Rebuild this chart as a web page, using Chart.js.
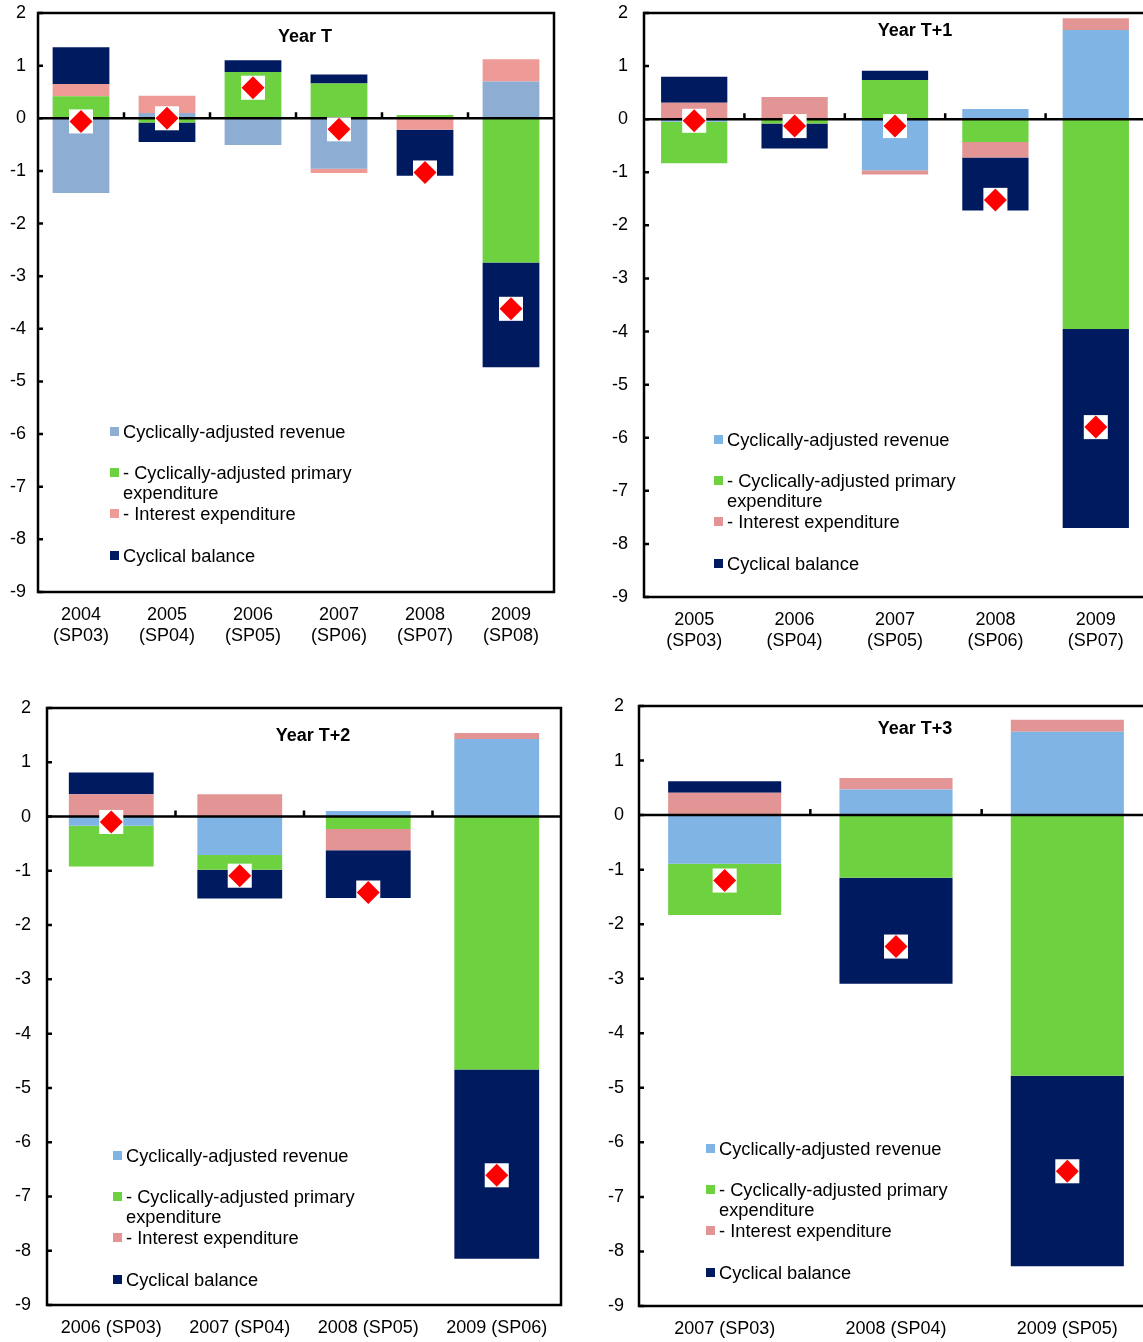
<!DOCTYPE html>
<html>
<head>
<meta charset="utf-8">
<script src="https://cdn.jsdelivr.net/npm/chart.js@4.4.0/dist/chart.umd.min.js"></script>
<style>
  html, body { margin: 0; padding: 0; background: #fff; overflow: hidden; width: 1143px; height: 1342px; }
  body { position: relative; font-family: "Liberation Sans", Arial, sans-serif; color: #000; }
  .panel { position: absolute; }
  .title { position: absolute; font-weight: bold; font-size: 18px; line-height: 20px; white-space: nowrap; transform: translateX(-50%); }
  .lg { position: absolute; font-size: 18.3px; line-height: 20px; white-space: nowrap; }
  .sw { position: absolute; width: 9px; height: 9px; }
</style>
</head>
<body>
<script>
// ---- data: Year T ----
const catsT = [['2004', '(SP03)'], ['2005', '(SP04)'], ['2006', '(SP05)'], ['2007', '(SP06)'], ['2008', '(SP07)'], ['2009', '(SP08)']];
const revT  = [-1.42, 0.10, -0.51, -0.96, 0.00, 0.70];
const primT = [0.42, -0.08, 0.88, 0.66, 0.06, -2.74];
const intT  = [0.23, 0.33, 0.00, -0.08, -0.22, 0.42];
const cycT  = [0.70, -0.37, 0.22, 0.17, -0.87, -1.99];
const balT  = [-0.06, 0.00, 0.58, -0.21, -1.03, -3.62];

// ---- data: Year T+1 ----
const catsT1 = [['2005', '(SP03)'], ['2006', '(SP04)'], ['2007', '(SP05)'], ['2008', '(SP06)'], ['2009', '(SP07)']];
const revT1  = [-0.05, 0.00, -0.96, 0.19, 1.68];
const primT1 = [-0.78, -0.08, 0.74, -0.43, -3.95];
const intT1  = [0.31, 0.42, -0.08, -0.29, 0.22];
const cycT1  = [0.49, -0.47, 0.17, -1.00, -3.75];
const balT1  = [-0.03, -0.13, -0.13, -1.52, -5.80];

// ---- data: Year T+2 ----
const catsT2 = ['2006 (SP03)', '2007 (SP04)', '2008 (SP05)', '2009 (SP06)'];
const revT2  = [-0.17, -0.71, 0.10, 1.43];
const primT2 = [-0.75, -0.27, -0.23, -4.66];
const intT2  = [0.41, 0.41, -0.39, 0.11];
const cycT2  = [0.40, -0.53, -0.88, -3.49];
const balT2  = [-0.10, -1.09, -1.40, -6.61];

// ---- data: Year T+3 ----
const catsT3 = ['2007 (SP03)', '2008 (SP04)', '2009 (SP05)'];
const revT3  = [-0.89, 0.47, 1.53];
const primT3 = [-0.94, -1.15, -4.78];
const intT3  = [0.41, 0.21, 0.22];
const cycT3  = [0.21, -1.94, -3.49];
const balT3  = [-1.20, -2.41, -6.53];

const seriesNames = ['Cyclically-adjusted revenue', '- Cyclically-adjusted primary expenditure', '- Interest expenditure', 'Cyclical balance'];
const yTicks = { min: -9, max: 2, step: 1 };

const GREEN = '#6ED140', NAVY = '#001A60', RED = '#FF0000';

Chart.defaults.font.family = '"Liberation Sans", Arial, sans-serif';
Chart.defaults.font.size = 18;
Chart.defaults.color = '#000';

// frame, zero line and little tick marks (Excel style)
const framePlugin = {
  id: 'frame',
  afterDatasetDraw(chart, args) {
    if (args.index !== 0) return; // after the last bar series, before the diamonds
    const { ctx, chartArea: a, scales: { x, y } } = chart;
    const y0 = y.getPixelForValue(0);
    ctx.save();
    ctx.strokeStyle = '#000';
    ctx.lineWidth = 2.5;
    ctx.beginPath();
    ctx.moveTo(a.left, y0); ctx.lineTo(a.right, y0);
    for (let i = 1; i < x.ticks.length; i++) {
      const px = (x.getPixelForValue(i - 1) + x.getPixelForValue(i)) / 2;
      ctx.moveTo(px, y0); ctx.lineTo(px, y0 - 6);
    }
    ctx.stroke();
    ctx.restore();
  },
  afterDraw(chart) {
    const { ctx, chartArea: a, scales: { y } } = chart;
    ctx.save();
    ctx.strokeStyle = '#000';
    ctx.lineWidth = 2.5;
    ctx.strokeRect(a.left, a.top, a.right - a.left, a.bottom - a.top);
    ctx.beginPath();
    y.ticks.forEach(t => {
      const py = y.getPixelForValue(t.value);
      ctx.moveTo(a.left, py); ctx.lineTo(a.left + 5, py);
    });
    ctx.stroke();
    ctx.restore();
  }
};

const panels = [
  { left: 0, top: 0, w: 560, h: 665, yW: 38, padT: 13, padR: 6, xH: 73, yPad: 12,
    title: 'Year T', tx: 305, ty: 36, lx: 110, ly: 432,
    cats: catsT, rev: revT, prim: primT, int: intT, cyc: cycT, bal: balT, revColor: '#8DADD3', intColor: '#EE9A96' },
  { left: 590, top: 0, w: 565, h: 670, yW: 54, padT: 13, padR: 9, xH: 73, yPad: 16,
    title: 'Year T+1', tx: 915, ty: 30, lx: 714, ly: 440,
    cats: catsT1, rev: revT1, prim: primT1, int: intT1, cyc: cycT1, bal: balT1, revColor: '#7FB4E5', intColor: '#E39494' },
  { left: 0, top: 690, w: 568, h: 652, yW: 47, padT: 18, padR: 7, xH: 37, yPad: 16,
    title: 'Year T+2', tx: 313, ty: 735, lx: 113, ly: 1156,
    cats: catsT2, rev: revT2, prim: primT2, int: intT2, cyc: cycT2, bal: balT2, revColor: '#7FB4E5', intColor: '#E39494' },
  { left: 590, top: 690, w: 570, h: 652, yW: 49, padT: 16, padR: 7, xH: 36, yPad: 15,
    title: 'Year T+3', tx: 915, ty: 728, lx: 706, ly: 1149,
    cats: catsT3, rev: revT3, prim: primT3, int: intT3, cyc: cycT3, bal: balT3, revColor: '#7FB4E5', intColor: '#E39494' }
];

function addLegend(p) {
  // rows: revenue / primary (2 lines) / interest / cyclical
  const rows = [
    { off: 0,   text: 'Cyclically-adjusted revenue', color: p.revColor },
    { off: 41,  text: '- Cyclically-adjusted primary', color: GREEN },
    { off: 61,  text: 'expenditure', color: null },
    { off: 82,  text: '- Interest expenditure', color: p.intColor },
    { off: 124, text: 'Cyclical balance', color: NAVY }
  ];
  rows.forEach(r => {
    const cy = p.ly + r.off;
    if (r.color) {
      const sw = document.createElement('div');
      sw.className = 'sw';
      sw.style.left = p.lx + 'px';
      sw.style.top = (cy - 5) + 'px';
      sw.style.background = r.color;
      document.body.appendChild(sw);
    }
    const t = document.createElement('div');
    t.className = 'lg';
    t.style.left = (p.lx + 13) + 'px';
    t.style.top = (cy - 10) + 'px';
    t.textContent = r.text;
    document.body.appendChild(t);
  });
}

panels.forEach(p => {
  const div = document.createElement('div');
  div.className = 'panel';
  div.style.left = p.left + 'px';
  div.style.top = p.top + 'px';
  const cv = document.createElement('canvas');
  cv.width = p.w; cv.height = p.h;
  cv.style.width = p.w + 'px'; cv.style.height = p.h + 'px';
  div.appendChild(cv);
  document.body.appendChild(div);

  const bar = (label, data, color) => ({
    type: 'bar', label, data, backgroundColor: color, borderWidth: 0,
    barPercentage: 0.66, categoryPercentage: 1, stack: 'bars'
  });

  new Chart(cv, {
    type: 'bar',
    data: {
      labels: p.cats,
      datasets: [
        bar(seriesNames[0], p.rev, p.revColor),
        bar(seriesNames[1], p.prim, GREEN),
        bar(seriesNames[2], p.int, p.intColor),
        bar(seriesNames[3], p.cyc, NAVY),
        { type: 'line', label: 'balance bg', data: p.bal, showLine: false, stack: 'w', order: -1,
          pointStyle: 'rect', pointRadius: 17, pointBackgroundColor: '#fff', pointBorderWidth: 0 },
        { type: 'line', label: 'Budget balance', data: p.bal, showLine: false, stack: 'r', order: -2,
          pointStyle: 'rectRot', pointRadius: 11.5, pointBackgroundColor: RED, pointBorderWidth: 0 }
      ]
    },
    options: {
      responsive: false,
      animation: false,
      events: [],
      layout: { autoPadding: false, padding: { top: p.padT, right: p.padR, left: 0, bottom: 0 } },
      plugins: { legend: { display: false }, tooltip: { enabled: false } },
      scales: {
        x: {
          stacked: true,
          grid: { display: false, drawTicks: false },
          border: { display: false },
          ticks: { padding: 12, maxRotation: 0, autoSkip: false },
          afterFit: s => { s.height = p.xH; s.paddingLeft = 0; s.paddingRight = 0; }
        },
        y: {
          stacked: true,
          min: yTicks.min, max: yTicks.max,
          grid: { display: false, drawTicks: false },
          border: { display: false },
          ticks: { stepSize: yTicks.step, padding: p.yPad },
          afterFit: s => { s.width = p.yW; s.paddingTop = 0; s.paddingBottom = 0; }
        }
      }
    },
    plugins: [framePlugin]
  });

  const t = document.createElement('div');
  t.className = 'title';
  t.style.left = p.tx + 'px';
  t.style.top = (p.ty - 10) + 'px';
  t.textContent = p.title;
  document.body.appendChild(t);
  addLegend(p);
});
</script>
</body>
</html>
